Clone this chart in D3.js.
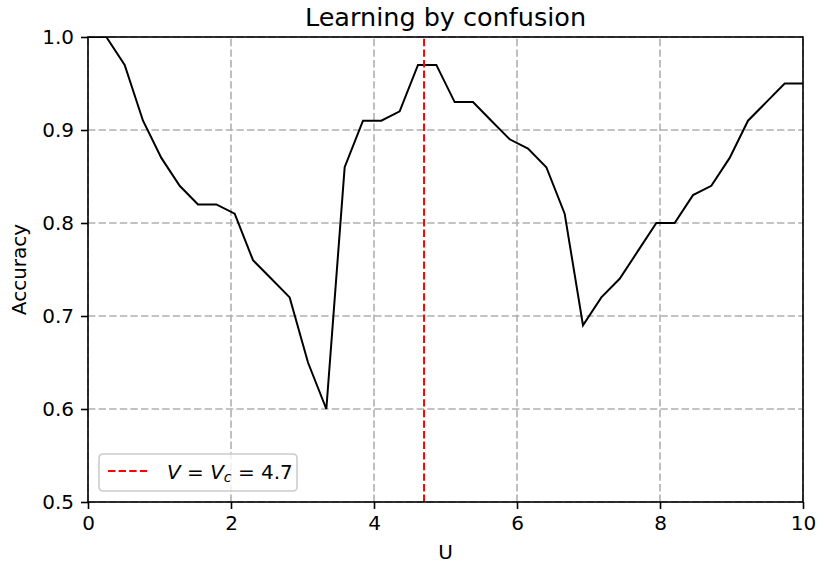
<!DOCTYPE html>
<html>
<head>
<meta charset="utf-8">
<script src="https://cdn.jsdelivr.net/npm/d3@7"></script>
<style>
  body { margin: 0; background: #fff; }
  svg { display: block; }
</style>
</head>
<body>
<div id="chartContainer"></div>
<script>
// Data: U on a 40-point grid over [0, 10]
const uValues = d3.range(40).map(i => i * 10 / 39);
const accuracy = [
    1.00, 1.00, 0.97, 0.91, 0.87, 0.84, 0.82, 0.82, 0.81, 0.76,
    0.74, 0.72, 0.65, 0.60, 0.86, 0.91, 0.91, 0.92, 0.97, 0.97,
    0.93, 0.93, 0.91, 0.89, 0.88, 0.86, 0.81, 0.69, 0.72, 0.74,
    0.77, 0.80, 0.80, 0.83, 0.84, 0.87, 0.91, 0.93, 0.95, 0.95
];
const criticalU = 4.7;
const xTicks = [0, 2, 4, 6, 8, 10];
const yTicks = [0.5, 0.6, 0.7, 0.8, 0.9, 1.0];

function createChart() {
    const width = 818;
    const height = 565;
    const margin = { top: 37, right: 15, bottom: 63, left: 88 };
    const font = "DejaVu Sans, sans-serif";

    const x = d3.scaleLinear().domain([0, 10]).range([margin.left, width - margin.right]);
    const y = d3.scaleLinear().domain([0.5, 1.0]).range([height - margin.bottom, margin.top]);

    const svg = d3.create("svg")
        .attr("width", width)
        .attr("height", height)
        .attr("viewBox", `0 0 ${width} ${height}`)
        .style("font-family", font);

    svg.append("clipPath").attr("id", "plot-clip")
        .append("rect")
        .attr("x", margin.left).attr("y", margin.top)
        .attr("width", x(10) - x(0)).attr("height", y(0.5) - y(1.0));

    // Grid lines
    const grid = svg.append("g")
        .attr("stroke", "#b0b0b0")
        .attr("stroke-width", 1.6)
        .attr("stroke-dasharray", "7.4,3.2");
    grid.selectAll("line.gx")
        .data(xTicks)
        .join("line")
        .attr("class", "gx")
        .attr("x1", d => x(d)).attr("x2", d => x(d))
        .attr("y1", y(0.5)).attr("y2", y(1.0));
    grid.selectAll("line.gy")
        .data(yTicks)
        .join("line")
        .attr("class", "gy")
        .attr("y1", d => y(d)).attr("y2", d => y(d))
        .attr("x1", x(0)).attr("x2", x(10));

    // Accuracy curve
    const line = d3.line()
        .x((d, i) => x(uValues[i]))
        .y(d => y(d));
    svg.append("path")
        .datum(accuracy)
        .attr("clip-path", "url(#plot-clip)")
        .attr("fill", "none")
        .attr("stroke", "#000")
        .attr("stroke-width", 2)
        .attr("stroke-linejoin", "miter")
        .attr("d", line);

    // Critical value marker
    svg.append("line")
        .attr("x1", x(criticalU)).attr("x2", x(criticalU))
        .attr("y1", y(0.5)).attr("y2", y(1.0))
        .attr("stroke", "#ff0000")
        .attr("stroke-width", 2)
        .attr("stroke-dasharray", "7.4,3.2");

    // Axes
    const xAxis = svg.append("g")
        .attr("transform", `translate(0,${y(0.5)})`)
        .call(d3.axisBottom(x).tickValues(xTicks).tickFormat(d3.format("d")).tickSize(7).tickPadding(7));
    const yAxis = svg.append("g")
        .attr("transform", `translate(${x(0)},0)`)
        .call(d3.axisLeft(y).tickValues(yTicks).tickFormat(d3.format(".1f")).tickSize(7).tickPadding(7));
    [xAxis, yAxis].forEach(g => {
        g.select(".domain").remove();
        g.selectAll(".tick line").attr("stroke", "#000").attr("stroke-width", 1.6);
        g.selectAll(".tick text")
            .attr("fill", "#000")
            .style("font-family", font)
            .style("font-size", "20px");
    });

    // Spines
    svg.append("rect")
        .attr("x", x(0)).attr("y", y(1.0))
        .attr("width", x(10) - x(0)).attr("height", y(0.5) - y(1.0))
        .attr("fill", "none")
        .attr("stroke", "#000")
        .attr("stroke-width", 1.6);

    // Title and axis labels
    svg.append("text")
        .attr("x", (x(0) + x(10)) / 2).attr("y", 26)
        .attr("text-anchor", "middle")
        .style("font-size", "25.5px")
        .text("Learning by confusion");
    svg.append("text")
        .attr("x", (x(0) + x(10)) / 2).attr("y", 559)
        .attr("text-anchor", "middle")
        .style("font-size", "20px")
        .text("U");
    svg.append("text")
        .attr("transform", `translate(26,${(y(0.5) + y(1.0)) / 2}) rotate(-90)`)
        .attr("text-anchor", "middle")
        .style("font-size", "20px")
        .text("Accuracy");

    // Legend
    const legend = svg.append("g").attr("transform", "translate(99,454)");
    legend.append("rect")
        .attr("width", 198).attr("height", 37)
        .attr("rx", 4)
        .attr("fill", "#fff").attr("fill-opacity", 0.8)
        .attr("stroke", "#cccccc").attr("stroke-width", 1.6);
    legend.append("line")
        .attr("x1", 9).attr("x2", 50)
        .attr("y1", 17).attr("y2", 17)
        .attr("stroke", "#ff0000")
        .attr("stroke-width", 2)
        .attr("stroke-dasharray", "7.4,3.2");
    const label = legend.append("text")
        .attr("x", 68).attr("y", 25)
        .style("font-size", "20px");
    label.append("tspan").style("font-style", "italic").text("V");
    label.append("tspan").text(" = ");
    label.append("tspan").style("font-style", "italic").text("V");
    label.append("tspan").style("font-style", "italic").style("font-size", "14px").attr("dy", 3).text("c");
    label.append("tspan").attr("dy", -3).text(" = 4.7");

    return svg.node();
}

document.getElementById("chartContainer").appendChild(createChart());
</script>
</body>
</html>
